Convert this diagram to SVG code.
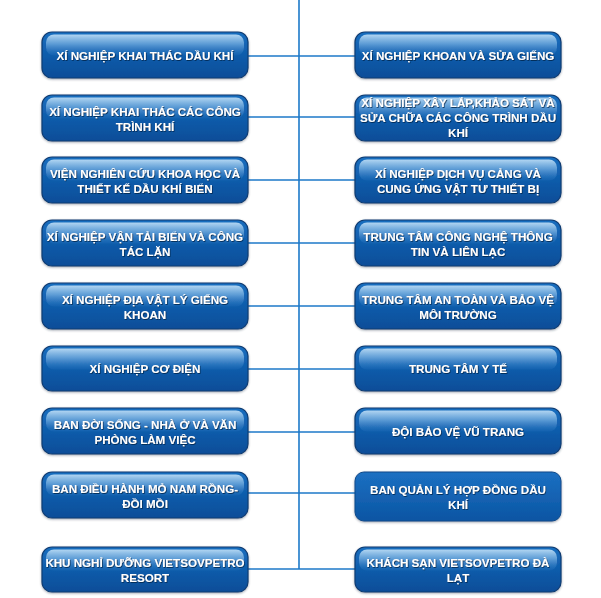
<svg xmlns="http://www.w3.org/2000/svg" width="601" height="598" viewBox="0 0 601 598">
<defs>
<linearGradient id="body" x1="0" y1="0" x2="0" y2="1">
<stop offset="0" stop-color="#1a6ebf"/>
<stop offset="0.5" stop-color="#0f5cab"/>
<stop offset="1" stop-color="#0a4d98"/>
</linearGradient>
<linearGradient id="gloss" x1="0" y1="0" x2="0" y2="1">
<stop offset="0" stop-color="#c4e2f8" stop-opacity="0.9"/>
<stop offset="0.45" stop-color="#74aee0" stop-opacity="0.75"/>
<stop offset="1" stop-color="#2d78c2" stop-opacity="0.2"/>
</linearGradient>
<linearGradient id="flat" x1="0" y1="0" x2="0" y2="1">
<stop offset="0" stop-color="#1c70c2"/>
<stop offset="1" stop-color="#0b55a3"/>
</linearGradient>
<filter id="ts" x="-5%" y="-30%" width="110%" height="160%">
<feDropShadow dx="0.7" dy="0.9" stdDeviation="0.5" flood-color="#06244a" flood-opacity="0.9"/>
</filter>
<filter id="bs" x="-5%" y="-10%" width="110%" height="130%">
<feDropShadow dx="0" dy="1" stdDeviation="0.8" flood-color="#2a3a50" flood-opacity="0.45"/>
</filter>
</defs>
<style>
.box{fill:url(#body);stroke:#0e3c73;stroke-width:1.2;filter:url(#bs)}
.boxf{fill:url(#flat);stroke:#0e4a8a;stroke-width:1;filter:url(#bs)}
.gl{fill:url(#gloss)}
.t{font-family:"Liberation Sans",Arial,sans-serif;font-weight:bold;font-size:11.6px;fill:#ffffff;text-anchor:middle;filter:url(#ts)}
.c{stroke:#1c79c9;stroke-width:1.6;fill:none}
</style>
<rect width="601" height="598" fill="#ffffff"/>
<g id="connectors">
<line class="c" x1="299" y1="0" x2="299" y2="569"/>
<line class="c" x1="248" y1="56" x2="355" y2="56"/>
<line class="c" x1="248" y1="117" x2="355" y2="117"/>
<line class="c" x1="248" y1="180" x2="355" y2="180"/>
<line class="c" x1="248" y1="243" x2="355" y2="243"/>
<line class="c" x1="248" y1="306" x2="355" y2="306"/>
<line class="c" x1="248" y1="369" x2="355" y2="369"/>
<line class="c" x1="248" y1="432" x2="355" y2="432"/>
<line class="c" x1="248" y1="493" x2="355" y2="493"/>
<line class="c" x1="248" y1="569" x2="355" y2="569"/>
</g>
<g id="L1"><rect class="box" x="42" y="32" width="206" height="46" rx="10"/><rect class="gl" x="46" y="34.5" width="198" height="21" rx="8"/><text class="t" x="145" y="59.5">XÍ NGHIỆP KHAI THÁC DẦU KHÍ</text></g>
<g id="L2"><rect class="box" x="42" y="95" width="206" height="46" rx="10"/><rect class="gl" x="46" y="97.5" width="198" height="21" rx="8"/><text class="t" x="145" y="115.5">XÍ NGHIỆP KHAI THÁC CÁC CÔNG</text><text class="t" x="145" y="130.5">TRÌNH KHÍ</text></g>
<g id="L3"><rect class="box" x="42" y="157" width="206" height="46" rx="10"/><rect class="gl" x="46" y="159.5" width="198" height="21" rx="8"/><text class="t" x="145" y="177.5">VIỆN NGHIÊN CỨU KHOA HỌC VÀ</text><text class="t" x="145" y="192.5">THIẾT KẾ DẦU KHÍ BIỂN</text></g>
<g id="L4"><rect class="box" x="42" y="220" width="206" height="46" rx="10"/><rect class="gl" x="46" y="222.5" width="198" height="21" rx="8"/><text class="t" x="145" y="240.5">XÍ NGHIỆP VẬN TẢI BIỂN VÀ CÔNG</text><text class="t" x="145" y="255.5">TÁC LẶN</text></g>
<g id="L5"><rect class="box" x="42" y="283" width="206" height="46" rx="10"/><rect class="gl" x="46" y="285.5" width="198" height="21" rx="8"/><text class="t" x="145" y="303.5">XÍ NGHIỆP ĐỊA VẬT LÝ GIẾNG</text><text class="t" x="145" y="318.5">KHOAN</text></g>
<g id="L6"><rect class="box" x="42" y="346" width="206" height="45" rx="10"/><rect class="gl" x="46" y="348.5" width="198" height="21" rx="8"/><text class="t" x="145" y="373">XÍ NGHIỆP CƠ ĐIỆN</text></g>
<g id="L7"><rect class="box" x="42" y="408" width="206" height="46" rx="10"/><rect class="gl" x="46" y="410.5" width="198" height="21" rx="8"/><text class="t" x="145" y="428.5">BAN ĐỜI SỐNG - NHÀ Ở VÀ VĂN</text><text class="t" x="145" y="443.5">PHÒNG LÀM VIỆC</text></g>
<g id="L8"><rect class="box" x="42" y="472" width="206" height="46" rx="10"/><rect class="gl" x="46" y="474.5" width="198" height="21" rx="8"/><text class="t" x="145" y="492.5">BAN ĐIỀU HÀNH MỎ NAM RỒNG-</text><text class="t" x="145" y="507.5">ĐỒI MỒI</text></g>
<g id="L9"><rect class="box" x="42" y="547" width="206" height="45" rx="10"/><rect class="gl" x="46" y="549.5" width="198" height="21" rx="8"/><text class="t" x="145" y="567">KHU NGHỈ DƯỠNG VIETSOVPETRO</text><text class="t" x="145" y="582">RESORT</text></g>
<g id="R1"><rect class="box" x="355" y="32" width="206" height="46" rx="10"/><rect class="gl" x="359" y="34.5" width="198" height="21" rx="8"/><text class="t" x="458" y="59.5">XÍ NGHIỆP KHOAN VÀ SỬA GIẾNG</text></g>
<g id="R2"><rect class="box" x="355" y="95" width="206" height="46" rx="10"/><rect class="gl" x="359" y="97.5" width="198" height="21" rx="8"/><text class="t" x="458" y="107">XÍ NGHIỆP XÂY LẮP,KHẢO SÁT VÀ</text><text class="t" x="458" y="122">SỬA CHỮA CÁC CÔNG TRÌNH DẦU</text><text class="t" x="458" y="137">KHÍ</text></g>
<g id="R3"><rect class="box" x="355" y="157" width="206" height="46" rx="10"/><rect class="gl" x="359" y="159.5" width="198" height="21" rx="8"/><text class="t" x="458" y="177.5">XÍ NGHIỆP DỊCH VỤ CẢNG VÀ</text><text class="t" x="458" y="192.5">CUNG ỨNG VẬT TƯ THIẾT BỊ</text></g>
<g id="R4"><rect class="box" x="355" y="220" width="206" height="46" rx="10"/><rect class="gl" x="359" y="222.5" width="198" height="21" rx="8"/><text class="t" x="458" y="240.5">TRUNG TÂM CÔNG NGHỆ THÔNG</text><text class="t" x="458" y="255.5">TIN VÀ LIÊN LẠC</text></g>
<g id="R5"><rect class="box" x="355" y="283" width="206" height="46" rx="10"/><rect class="gl" x="359" y="285.5" width="198" height="21" rx="8"/><text class="t" x="458" y="303.5">TRUNG TÂM AN TOÀN VÀ BẢO VỆ</text><text class="t" x="458" y="318.5">MÔI TRƯỜNG</text></g>
<g id="R6"><rect class="box" x="355" y="346" width="206" height="45" rx="10"/><rect class="gl" x="359" y="348.5" width="198" height="21" rx="8"/><text class="t" x="458" y="373">TRUNG TÂM Y TẾ</text></g>
<g id="R7"><rect class="box" x="355" y="408" width="206" height="46" rx="10"/><rect class="gl" x="359" y="410.5" width="198" height="21" rx="8"/><text class="t" x="458" y="436">ĐỘI BẢO VỆ VŨ TRANG</text></g>
<g id="R8"><rect class="boxf" x="355" y="472" width="206" height="49" rx="9"/><text class="t" x="458" y="494">BAN QUẢN LÝ HỢP ĐỒNG DẦU</text><text class="t" x="458" y="509">KHÍ</text></g>
<g id="R9"><rect class="box" x="355" y="547" width="206" height="45" rx="10"/><rect class="gl" x="359" y="549.5" width="198" height="21" rx="8"/><text class="t" x="458" y="567">KHÁCH SẠN VIETSOVPETRO ĐÀ</text><text class="t" x="458" y="582">LẠT</text></g>
</svg>
